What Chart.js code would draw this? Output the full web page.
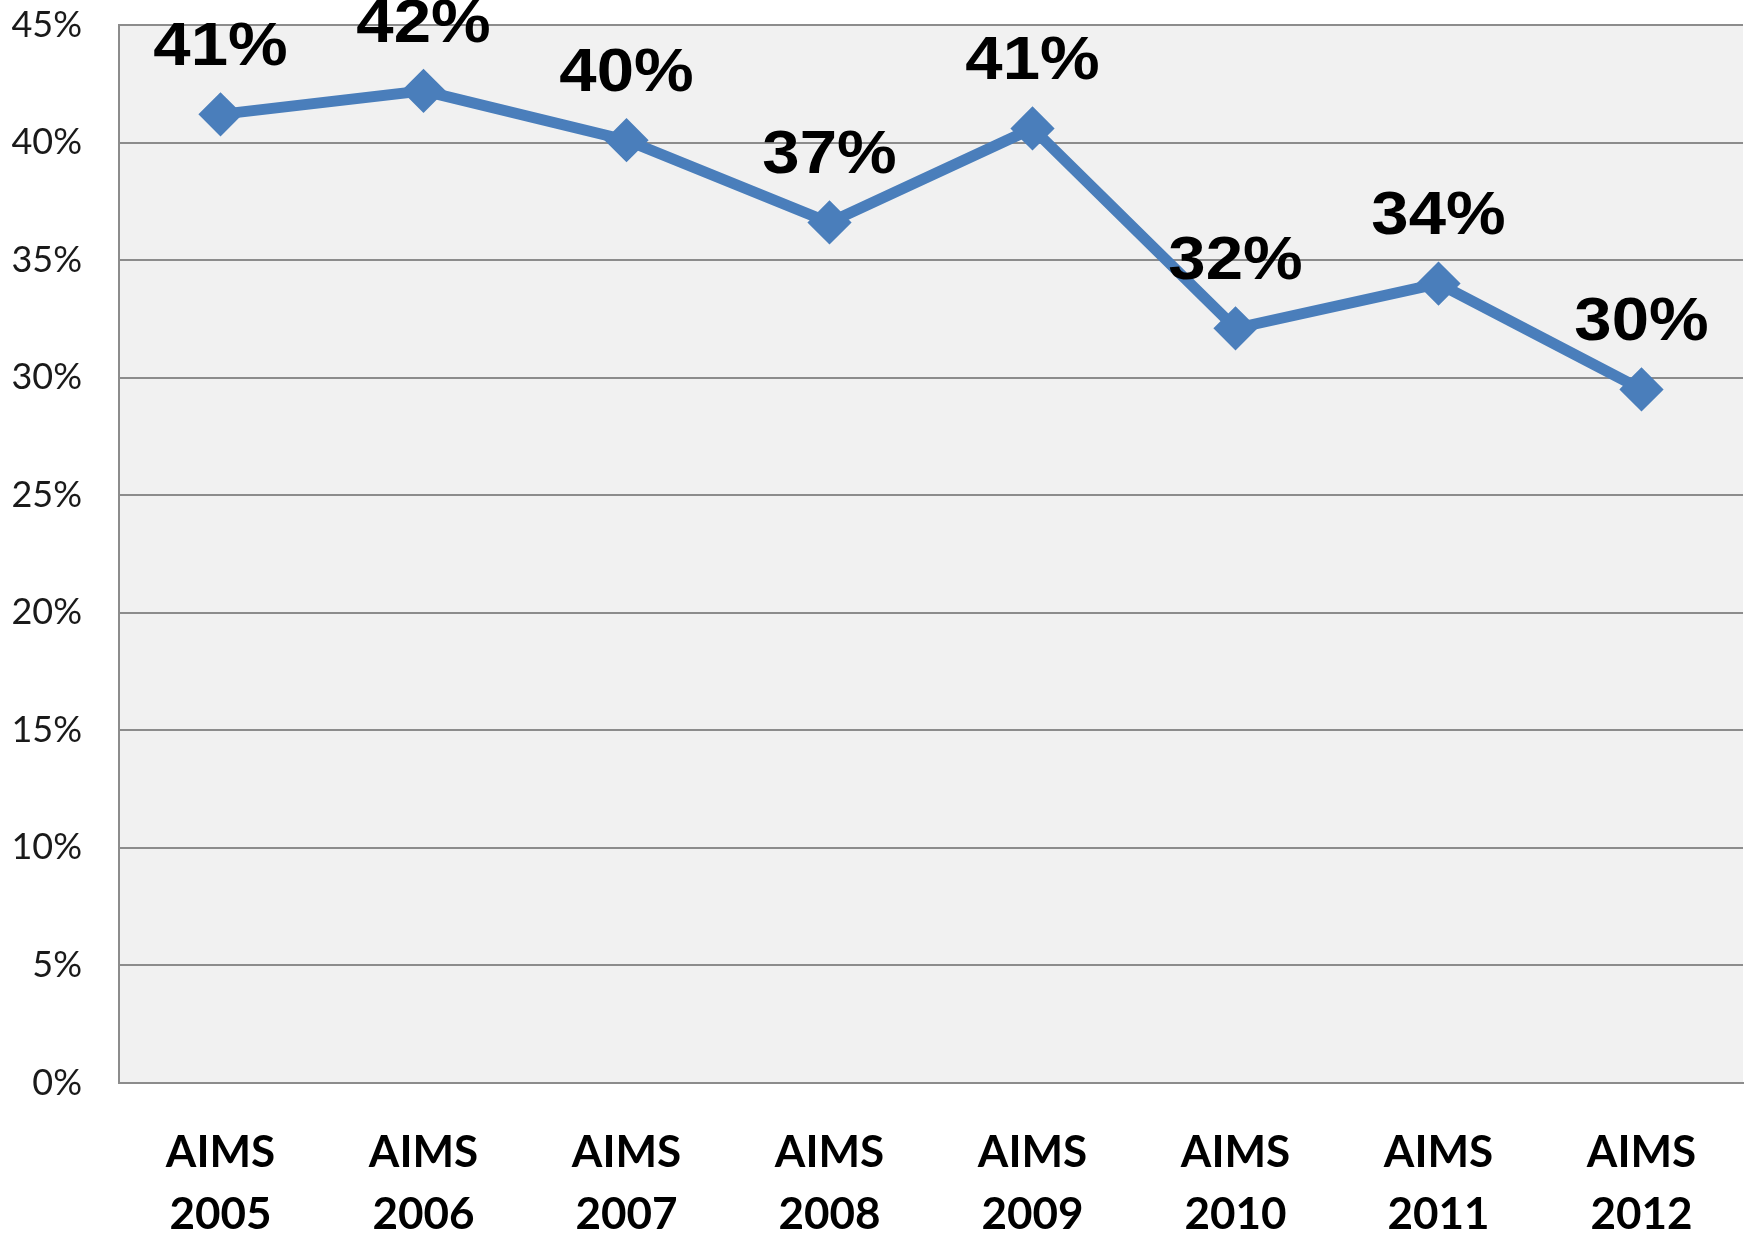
<!DOCTYPE html>
<html>
<head>
<meta charset="utf-8">
<script src="https://cdn.jsdelivr.net/npm/chart.js@4/dist/chart.umd.min.js"></script>
<style>
  html, body { margin: 0; padding: 0; background: #ffffff; }
  #wrap { width: 1752px; height: 1235px; position: relative; }
</style>
</head>
<body>
<div id="wrap"><canvas id="c" width="1752" height="1235"></canvas></div>
<script>
const categories = [["AIMS","2005"],["AIMS","2006"],["AIMS","2007"],["AIMS","2008"],["AIMS","2009"],["AIMS","2010"],["AIMS","2011"],["AIMS","2012"]];
const values = [41.2, 42.2, 40.1, 36.6, 40.6, 32.1, 34.0, 29.5];
const yMin = 0, yMax = 45, yStep = 5;

const plotBg = {
  id: 'plotBg',
  beforeDraw(chart) {
    const {ctx, chartArea: a} = chart;
    ctx.save();
    ctx.fillStyle = '#f1f1f1';
    ctx.fillRect(a.left, a.top, a.right - a.left, a.bottom - a.top);
    ctx.restore();
  }
};

const valueLabels = {
  id: 'valueLabels',
  afterDatasetsDraw(chart) {
    const {ctx} = chart;
    const meta = chart.getDatasetMeta(0);
    ctx.save();
    ctx.font = 'bold 61px "Liberation Sans", Arial, sans-serif';
    ctx.fillStyle = '#000000';
    ctx.textAlign = 'center';
    ctx.textBaseline = 'middle';
    meta.data.forEach((pt, i) => {
      ctx.save();
      ctx.translate(pt.x, pt.y - 66);
      ctx.scale(1.1, 1);
      ctx.fillText(Math.round(values[i]) + '%', 0, 0);
      ctx.restore();
    });
    ctx.restore();
  }
};

new Chart(document.getElementById('c'), {
  type: 'line',
  data: {
    labels: categories,
    datasets: [{
      data: values,
      borderColor: '#4a7ebb',
      backgroundColor: '#4a7ebb',
      borderWidth: 11,
      pointStyle: 'rectRot',
      pointRadius: 20,
      pointBorderWidth: 3,
      pointBackgroundColor: '#4a7ebb',
      pointBorderColor: '#4a7ebb',
      tension: 0,
      clip: false
    }]
  },
  options: {
    responsive: false,
    animation: false,
    devicePixelRatio: 1,
    layout: { autoPadding: false, padding: { top: 25, right: 9, left: 0, bottom: 0 } },
    plugins: { legend: { display: false }, tooltip: { enabled: false } },
    scales: {
      x: {
        offset: true,
        grid: { display: true, drawOnChartArea: false, drawTicks: true, tickLength: 39, tickColor: 'rgba(0,0,0,0)' },
        border: { display: true, color: '#8c8c8c', width: 2 },
        ticks: {
          color: '#000000',
          padding: 0,
          maxRotation: 0,
          autoSkip: false,
          font: { family: 'Lato, "Liberation Sans", sans-serif', size: 44, weight: 'bold', lineHeight: 1.41 }
        },
        afterFit(scale) { scale.height = 152; scale.paddingLeft = 0; scale.paddingRight = 0; }
      },
      y: {
        min: yMin, max: yMax,
        grid: { color: '#8c8c8c', lineWidth: 2, drawTicks: true, tickLength: 37, tickColor: 'rgba(0,0,0,0)' },
        border: { display: true, color: '#8c8c8c', width: 2 },
        ticks: {
          stepSize: yStep,
          color: '#1a1a1a',
          padding: 0,
          callback: v => v + '%',
          font: { family: 'Lato, "Liberation Sans", sans-serif', size: 36 }
        },
        afterFit(scale) { scale.width = 119; }
      }
    }
  },
  plugins: [plotBg, valueLabels]
});
</script>
</body>
</html>
